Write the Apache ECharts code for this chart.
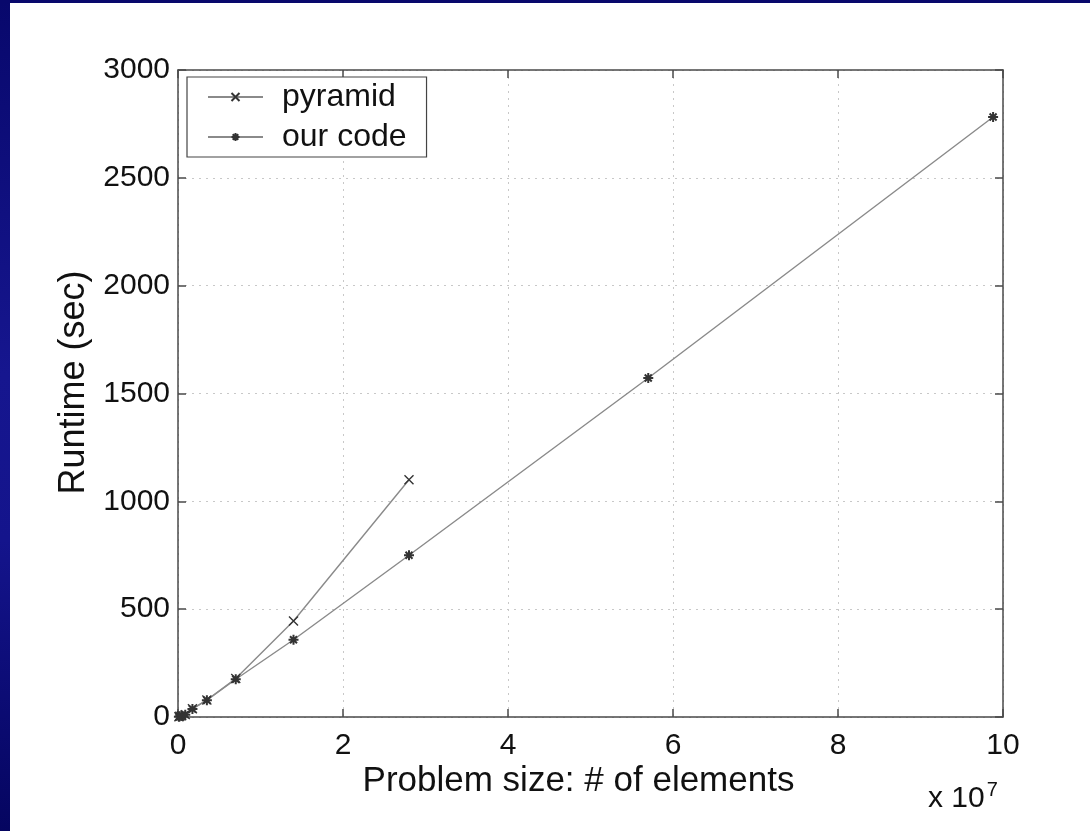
<!DOCTYPE html>
<html>
<head>
<meta charset="utf-8">
<script src="https://cdn.jsdelivr.net/npm/echarts@6/dist/echarts.min.js"></script>
<style>
html,body{margin:0;padding:0;background:#fff;}
#wrap{position:relative;width:1090px;height:831px;overflow:hidden;background:#fff;}
#chart{position:absolute;left:0;top:0;width:1090px;height:831px;}
#bl{position:absolute;left:0;top:0;width:10px;height:831px;background:linear-gradient(#08086c,#16168f 45%,#14148c 65%,#050560);}
#bt{position:absolute;left:0;top:0;width:1090px;height:3px;background:#08086c;}
</style>
</head>
<body>
<div id="wrap"><div id="chart"></div><div id="bl"></div><div id="bt"></div></div>
<script>
// Problem sizes (# of elements) and runtimes (sec)
const pyramidSizes   = [0.011e7, 0.022e7, 0.044e7, 0.088e7, 0.175e7, 0.35e7, 0.7e7, 1.4e7, 2.8e7];
const pyramidTimes   = [1, 3, 6, 11, 38, 79, 178, 445, 1100];
const ourCodeSizes   = [0.011e7, 0.022e7, 0.044e7, 0.088e7, 0.175e7, 0.35e7, 0.7e7, 1.4e7, 2.8e7, 5.7e7, 9.88e7];
const ourCodeTimes   = [1, 3, 6, 11, 37, 78, 175, 358, 750, 1572, 2782];
const xTicks = [0, 2e7, 4e7, 6e7, 8e7, 10e7];
const yTicks = [0, 500, 1000, 1500, 2000, 2500, 3000];
const seriesNames = ['pyramid', 'our code'];

const FONT = '"Liberation Sans", Arial, Helvetica, sans-serif';
const AX = '#4a4a4a';
const LINE = '#8a8a8a';
const MARK = '#333';
const xMark = 'path://M0,0L10,10M10,0L0,10';
const starMark = 'path://M5,0L5,10M0,5L10,5M1.5,1.5L8.5,8.5M8.5,1.5L1.5,8.5';

const chart = echarts.init(document.getElementById('chart'), null, {renderer: 'canvas'});
const pair = (xs, ys) => xs.map((x, i) => [x, ys[i]]);

const gridBox = {left: 178, right: 87, top: 70, bottom: 114};
const splitDot = {show: true, lineStyle: {color: '#c8c8c8', type: [2, 5], width: 1}};

chart.setOption({
  backgroundColor: '#fff',
  animation: false,
  grid: Object.assign({containLabel: false}, gridBox),
  legend: {
    left: 187, top: 77,
    orient: 'vertical',
    backgroundColor: '#fff',
    borderColor: '#444', borderWidth: 1.2, borderRadius: 0,
    padding: [3, 20, 3, 20],
    itemWidth: 55, itemHeight: 10, itemGap: 6,
    textStyle: {fontFamily: FONT, fontSize: 32, color: '#111', lineHeight: 34, padding: [0, 0, 0, 14]},
    data: seriesNames
  },
  xAxis: [{
    type: 'value', min: xTicks[0], max: xTicks[xTicks.length - 1], interval: 2e7,
    axisLine: {show: true, onZero: false, lineStyle: {color: AX, width: 1.5}},
    axisTick: {show: true, inside: true, length: 8, lineStyle: {color: AX, width: 1.5}},
    axisLabel: {margin: 14, fontFamily: FONT, fontSize: 30, color: '#111', formatter: v => String(v / 1e7)},
    splitLine: splitDot,
    name: 'Problem size: # of elements', nameLocation: 'middle', nameGap: 47, nameMoveOverlap: false,
    nameTextStyle: {fontFamily: FONT, fontSize: 35, color: '#111', padding: [0, 24, 0, 0]}
  }, {
    type: 'value', position: 'top', min: xTicks[0], max: xTicks[xTicks.length - 1], interval: 2e7,
    axisLine: {show: true, onZero: false, lineStyle: {color: AX, width: 1.5}},
    axisTick: {show: true, inside: true, length: 8, lineStyle: {color: AX, width: 1.5}},
    axisLabel: {show: false}, splitLine: {show: false}
  }],
  yAxis: [{
    type: 'value', min: yTicks[0], max: yTicks[yTicks.length - 1], interval: 500,
    axisLine: {show: true, onZero: false, lineStyle: {color: AX, width: 1.5}},
    axisTick: {show: true, inside: true, length: 8, lineStyle: {color: AX, width: 1.5}},
    axisLabel: {margin: 8, fontFamily: FONT, fontSize: 30, color: '#111', formatter: v => String(v)},
    splitLine: splitDot,
    name: 'Runtime (sec)', nameLocation: 'middle', nameGap: 82, nameRotate: 90,
    nameTextStyle: {fontFamily: FONT, fontSize: 36, color: '#111', padding: [0, 0, 0, 22]}
  }, {
    type: 'value', position: 'right', min: yTicks[0], max: yTicks[yTicks.length - 1], interval: 500,
    axisLine: {show: true, onZero: false, lineStyle: {color: AX, width: 1.5}},
    axisTick: {show: true, inside: true, length: 8, lineStyle: {color: AX, width: 1.5}},
    axisLabel: {show: false}, splitLine: {show: false}
  }],
  graphic: [{
    type: 'text', left: 928, top: 780,
    style: {
      text: 'x 10{s|7}', fontFamily: FONT, fontSize: 30, fill: '#111',
      rich: {s: {fontFamily: FONT, fontSize: 20, fill: '#111', verticalAlign: 'top', padding: [0, 0, 18, 2]}}
    }
  }],
  series: [{
    name: seriesNames[0], type: 'line', data: pair(pyramidSizes, pyramidTimes),
    clip: false, symbol: xMark, symbolSize: 9,
    lineStyle: {color: LINE, width: 1.4},
    itemStyle: {color: 'rgba(0,0,0,0)', borderColor: MARK, borderWidth: 1.4}
  }, {
    name: seriesNames[1], type: 'line', data: pair(ourCodeSizes, ourCodeTimes),
    clip: false, symbol: starMark, symbolSize: 10,
    lineStyle: {color: LINE, width: 1.4},
    itemStyle: {color: 'rgba(0,0,0,0)', borderColor: MARK, borderWidth: 2}
  }]
});
</script>
</body>
</html>
